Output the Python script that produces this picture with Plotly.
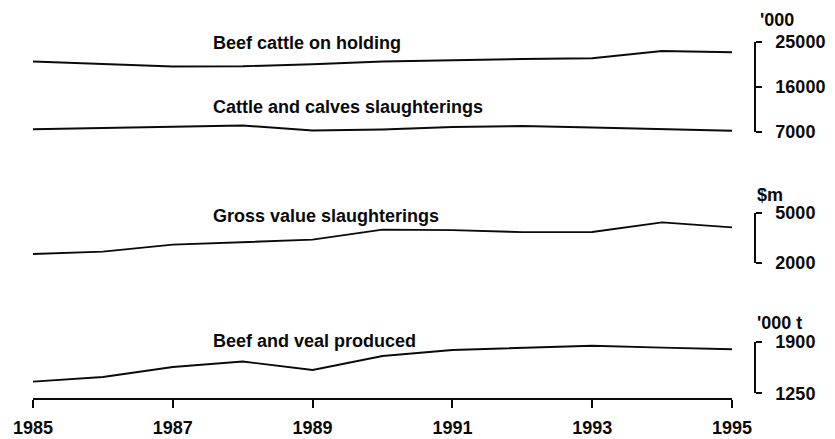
import plotly.graph_objects as go

years = [1985, 1986, 1987, 1988, 1989, 1990, 1991, 1992, 1993, 1994, 1995]
beef_cattle = [21100, 20600, 20100, 20140, 20540, 21100, 21400, 21600, 21740, 23200, 22940]
slaughterings = [7540, 7800, 8100, 8300, 7300, 7500, 8000, 8200, 7900, 7600, 7260]
gross_value = [2540, 2680, 3100, 3250, 3400, 4000, 3970, 3850, 3860, 4440, 4140]
beef_veal = [1397, 1456, 1582, 1651, 1544, 1720, 1796, 1827, 1849, 1825, 1805]

x_ticks = [1985, 1987, 1989, 1991, 1993, 1995]
y1_ticks = [7000, 16000, 25000]
y2_ticks = [2000, 5000]
y3_ticks = [1250, 1900]

labels = ["Beef cattle on holding", "Cattle and calves slaughterings",
          "Gross value slaughterings", "Beef and veal produced"]
units = ["'000", "$m", "'000 t"]

W, H = 835, 439
ML, MR, MT, MB = 25, 88, 0, 48
PW = W - ML - MR
PH = H - MT - MB
bottom = H - MB
DX, DY = 8, 8  # page offset


def fy(py):
    return (bottom - (py - DY)) / PH


def fx(px):
    return ((px - DX) - ML) / PW


FONT = "Liberation Sans"
FSIZE = 18
INK = "#0a0a0a"
tfont = dict(family=FONT, size=FSIZE, color=INK, weight="bold")

fig = go.Figure()
line = dict(color=INK, width=1.9)
fig.add_trace(go.Scatter(x=years, y=beef_cattle, mode="lines", line=line, xaxis="x", yaxis="y"))
fig.add_trace(go.Scatter(x=years, y=slaughterings, mode="lines", line=line, xaxis="x", yaxis="y"))
fig.add_trace(go.Scatter(x=years, y=gross_value, mode="lines", line=line, xaxis="x", yaxis="y2"))
fig.add_trace(go.Scatter(x=years, y=beef_veal, mode="lines", line=line, xaxis="x", yaxis="y3"))

yax_common = dict(side="right", anchor="free", position=1.0, showgrid=False, zeroline=False,
                  showline=True, linecolor=INK, linewidth=1.5, ticks="outside", ticklen=6,
                  tickwidth=1.5, tickcolor=INK, ticklabelstandoff=10, automargin=False,
                  tickfont=tfont)

fig.update_layout(
    width=W, height=H, margin=dict(l=ML, r=MR, t=MT, b=MB, autoexpand=False),
    paper_bgcolor="white", plot_bgcolor="white", showlegend=False,
    xaxis=dict(domain=[0, fx(732)], range=[1985, 1995], anchor="free", position=0,
               tickvals=x_ticks, ticktext=[str(v) for v in x_ticks], automargin=False,
               showgrid=False, zeroline=False, showline=True, linecolor=INK, linewidth=1.5,
               ticks="outside", ticklen=8, tickwidth=1.5, tickcolor=INK, ticklabelstandoff=5,
               tickfont=tfont),
    yaxis=dict(domain=[fy(132), fy(42)], range=[7000, 25000], tickvals=y1_ticks,
               ticktext=[str(v) for v in y1_ticks], **yax_common),
    yaxis2=dict(domain=[fy(263), fy(213)], range=[2000, 5000], tickvals=y2_ticks,
                ticktext=[str(v) for v in y2_ticks], **yax_common),
    yaxis3=dict(domain=[fy(393.3), fy(341.7)], range=[1250, 1900], tickvals=y3_ticks,
                ticktext=[str(v) for v in y3_ticks], **yax_common),
)

label_pos = [(211, 43.5), (211, 107), (211, 215.5), (211, 340.5)]
for txt, (px, py) in zip(labels, label_pos):
    fig.add_annotation(text=txt, xref="paper", yref="paper", x=fx(px), y=fy(py),
                       xanchor="left", yanchor="middle", showarrow=False, font=tfont)

unit_pos = [(758, 20), (755, 195), (755, 322.5)]
for txt, (px, py) in zip(units, unit_pos):
    fig.add_annotation(text=txt, xref="paper", yref="paper", x=fx(px), y=fy(py),
                       xanchor="left", yanchor="middle", showarrow=False, font=tfont)

fig.write_html("out.html")
